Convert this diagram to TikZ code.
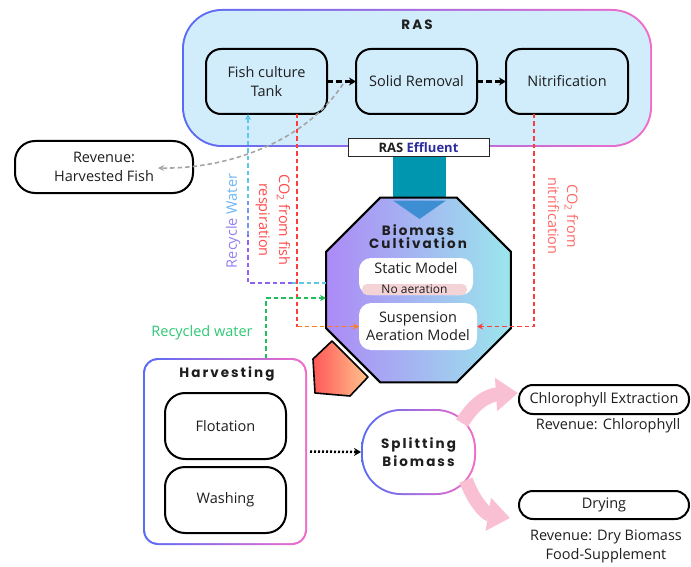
\documentclass[tikz,border=0pt]{standalone}
\usepackage{fontspec}
\setmainfont{Open Sans}
\newfontfamily\headfont[LetterSpace=15]{Poppins}
\usetikzlibrary{arrows.meta,shapes.geometric}
\definecolor{txt}{RGB}{30,30,30}
\definecolor{rasfill}{RGB}{209,236,251}
\definecolor{gL}{RGB}{88,108,246}
\definecolor{gR}{RGB}{242,108,200}
\definecolor{efflblue}{RGB}{45,45,160}
\definecolor{teal1}{RGB}{0,150,175}
\definecolor{trib}{RGB}{62,142,212}
\definecolor{octL}{RGB}{172,138,246}
\definecolor{octR}{RGB}{155,230,236}
\definecolor{noaer}{RGB}{243,211,214}
\definecolor{redc}{RGB}{255,60,60}
\definecolor{redt}{RGB}{255,75,75}
\definecolor{redt2}{RGB}{255,105,105}
\definecolor{orangec}{RGB}{255,122,30}
\definecolor{greenc}{RGB}{30,190,90}
\definecolor{greent}{RGB}{45,200,115}
\definecolor{cyanc}{RGB}{90,200,230}
\definecolor{midc}{RGB}{120,150,238}
\definecolor{purpc}{RGB}{140,100,240}
\definecolor{rect}{RGB}{150,128,242}
\definecolor{watt}{RGB}{110,180,245}
\definecolor{grayc}{RGB}{165,165,165}
\definecolor{pinkc}{RGB}{249,192,212}
\definecolor{pentL}{RGB}{255,88,88}
\definecolor{pentR}{RGB}{255,196,140}
\begin{document}
\begin{tikzpicture}[x=1pt,y=-1pt,
  every node/.style={inner sep=0pt, outer sep=0pt, text=txt},
  lbl/.style={font=\fontsize{14.5}{19}\selectfont, align=center},
  box/.style={draw=black, line width=2pt, rounded corners=15pt, lbl},
  shadebord/.style={left color=gL, right color=gR, draw=none},
  head/.style={font=\headfont\bfseries\fontsize{13.5}{13}\selectfont, align=center},
  blkdash/.style={draw=black, line width=2.5pt, dash pattern=on 6pt off 3pt, -{Stealth[length=7pt,width=8pt]}},
  cdash/.style={line width=1.4pt, dash pattern=on 4.5pt off 3pt},
  tip/.style={-{Stealth[length=6pt,width=6pt]}},
  pinkarr/.style={draw=pinkc, line width=14pt, -{Triangle[length=22pt,width=32pt]}}
]
\useasboundingbox (0,0) rectangle (691,567);

% ---------------- RAS ----------------
\node[shadebord, minimum width=470pt, minimum height=138pt, rounded corners=40pt] (rasO) at (417,78) {};
\node[fill=rasfill, minimum width=466pt, minimum height=134pt, rounded corners=38pt] (ras) at (417,78) {};
\node[head] (rast) at (417,25) {RAS};

\node[box, minimum width=121pt, minimum height=65pt] (fish) at (266.5,81.5) {Fish culture\\Tank};
\node[box, minimum width=121pt, minimum height=65pt] (solid) at (416.5,81.5) {Solid Removal};
\node[box, minimum width=122pt, minimum height=65pt] (nitri) at (567,81.5) {Nitrification};

\draw[blkdash] (fish.east) -- (solid.west);
\draw[blkdash] (solid.east) -- (nitri.west);

% revenue fish
\node[box, rounded corners=20pt, minimum width=178pt, minimum height=52pt] (revfish) at (104,167) {Revenue:\\Harvested Fish};
\coordinate (gstart) at (343,84);
\coordinate (gend) at (158,168);
\draw[cdash, draw=grayc, line width=1.6pt, tip] (gstart) .. controls (305,142) and (228,169) .. (gend);

% ---------------- Effluent and octagon ----------------
\node[fill=teal1, minimum width=53pt, minimum height=42pt] (tealr) at (419.5,178.5) {};
\node[regular polygon, regular polygon sides=8, minimum size=200pt, left color=octL, right color=octR, draw=black, line width=2pt] (oct) at (418.5,290) {};
\fill[trib] (393,200.5) -- (446,200.5) -- (419.5,219) -- cycle;
\node[draw=black!85, line width=1pt, fill=white, minimum width=141pt, minimum height=18pt, font=\bfseries\fontsize{13}{15}\selectfont] (effl) at (418.5,148) {RAS \textcolor{efflblue}{Effluent}};

\node[head] (bio) at (418,236.5) {Biomass\\Cultivation};
\node[fill=white, rounded corners=12pt, minimum width=114pt, minimum height=37pt] (static) at (416,276.5) {};
\node[lbl] (statict) at (416,268.5) {Static Model};
\node[fill=noaer, rounded corners=5pt, minimum width=105pt, minimum height=11pt, font=\fontsize{12}{12}\selectfont] (noaert) at (414.5,289.5) {No aeration};
\node[fill=white, rounded corners=12pt, minimum width=118pt, minimum height=47pt, lbl, font=\fontsize{14.5}{18}\selectfont] (susp) at (418,326.5) {Suspension\\Aeration Model};

% pentagon
\filldraw[left color=pentL, right color=pentR, draw=black, line width=1.6pt, line join=round] (332,341) -- (368,377) -- (350,396) -- (315,393) -- (313,359) -- cycle;

% ---------------- connectors to octagon ----------------
\coordinate (rwA) at (326,283);
\coordinate (rwM) at (292,283);
\coordinate (rwB) at (248,283);
\coordinate (rwC) at (248,235);
\coordinate (rwD) at (248,198);
\draw[cdash, draw=cyanc] (rwA) -- (rwM);
\draw[cdash, draw=purpc] (rwM) -- (rwB) -- (rwC);
\draw[cdash, draw=midc] (rwC) -- (rwD);
\draw[cdash, draw=cyanc, tip] (rwD) -- (rwB |- fish.south);
\node[rotate=90, font=\fontsize{14.5}{17}\selectfont] (rwt) at (233,221) {\textcolor{rect}{Recycle} \textcolor{watt}{Water}};

\coordinate (cfTop) at (297,114);
\coordinate (cfBot) at (297,326.5);
\draw[cdash, draw=redc] (cfTop) -- (cfBot);
\draw[cdash, draw=orangec, tip] (cfBot) -- (susp.west);
\node[rotate=-90, font=\fontsize{14.5}{20}\selectfont, align=center, text=redt] (cft) at (273,220) {CO\textsubscript{2} from fish\\respiration};

\coordinate (cnTop) at (534,114);
\coordinate (cnBot) at (534,326.5);
\draw[cdash, draw=redc, tip] (cnTop) -- (cnBot) -- (susp.east);
\node[rotate=-90, font=\fontsize{14.5}{19}\selectfont, align=center, text=redt2] (cnt) at (563,216) {CO\textsubscript{2} from\\nitrification};

% ---------------- Harvesting ----------------
\node[shadebord, rounded corners=15pt, minimum width=164pt, minimum height=187pt] (harvO) at (225,451.5) {};
\node[fill=white, rounded corners=13pt, minimum width=160pt, minimum height=183pt] (harv) at (225,451.5) {};
\node[head] (harvt) at (227,374) {Harvesting};
\node[box, rounded corners=20pt, minimum width=121pt, minimum height=66pt] (flot) at (225.5,426) {Flotation};
\node[box, rounded corners=20pt, minimum width=121pt, minimum height=66pt] (wash) at (225.5,500) {Washing};

\coordinate (grA) at (266,358);
\coordinate (grB) at (266,298);
\coordinate (grC) at (326,298);
\draw[cdash, draw=greenc, tip] (grA) -- (grB) -- (grC);
\node[font=\fontsize{14.5}{17}\selectfont, text=greent] (grt) at (202,333) {Recycled water};

% ---------------- Splitting ----------------
\node[shadebord, rounded corners=40pt, minimum width=115pt, minimum height=86pt] (splitO) at (418.5,452) {};
\node[fill=white, rounded corners=38pt, minimum width=111pt, minimum height=82pt] (split) at (418.5,452) {};
\node[head, font=\headfont\bfseries\fontsize{13.5}{18}\selectfont] (splitt) at (418.5,452) {Splitting\\Biomass};

\draw[draw=black, line width=2.5pt, dash pattern=on 2pt off 2pt, shorten <=3pt, -{Stealth[length=7pt,width=8pt]}] (harvO.east) -- (splitO.west);

\coordinate (pkA1) at (462,423);
\coordinate (pkA2) at (518,393);
\coordinate (pkB1) at (466,480);
\coordinate (pkB2) at (510,518);
\draw[pinkarr] (pkA1) .. controls (474,403) and (488,395) .. (pkA2);
\draw[pinkarr] (pkB1) .. controls (474,502) and (486,514) .. (pkB2);

\node[box, rounded corners=14pt, minimum width=170pt, minimum height=29pt] (chl) at (604,399.5) {Chlorophyll Extraction};
\node[lbl] (revchl) at (608,426) {Revenue: Chlorophyll};
\node[box, rounded corners=14pt, minimum width=170pt, minimum height=28pt] (dry) at (604,505) {Drying};
\node[lbl] (revdry) at (606,546.5) {Revenue: Dry Biomass\\Food-Supplement};
\end{tikzpicture}
\end{document}
